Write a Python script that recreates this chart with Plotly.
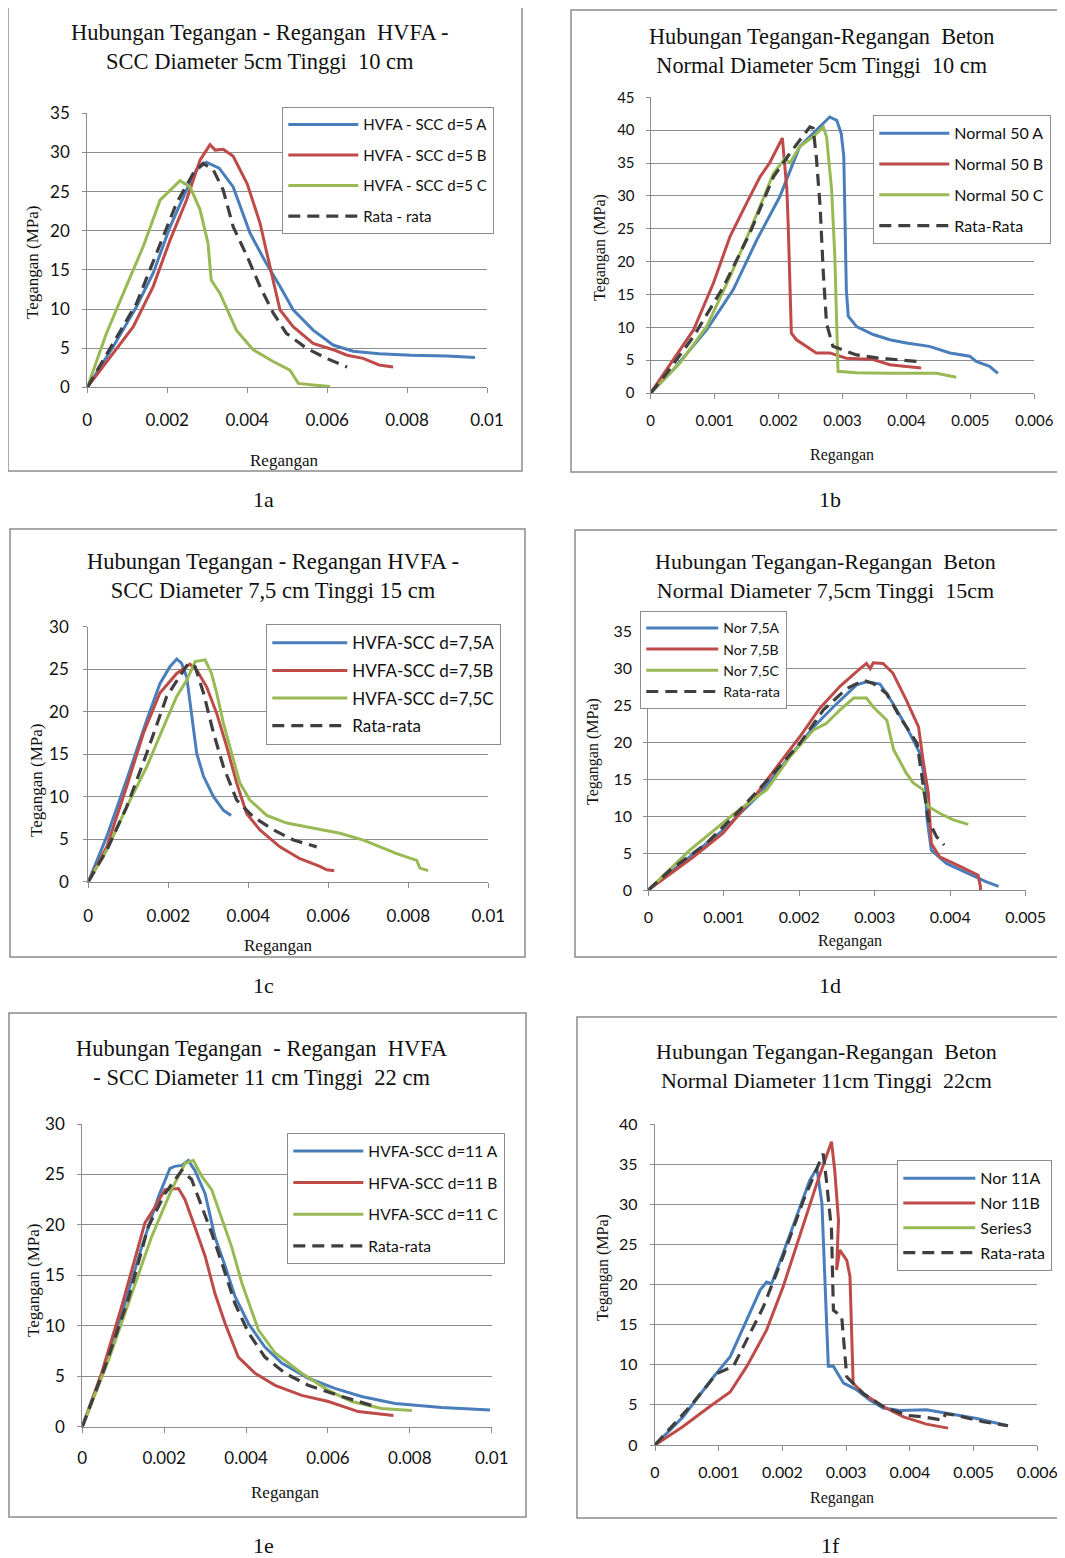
import plotly.graph_objects as go

# The page body adds an 8px margin; the figure is sized/offset so that
# reference pixel coordinates map onto the browser viewport.
VW, VH = 1065, 1558
OX, OY = 8, 8
W, H = VW - OX, VH - OY

# ---------------- DATA ----------------
# Panel 1a
a_names = ["HVFA - SCC d=5 A", "HVFA - SCC d=5 B", "HVFA - SCC d=5 C", "Rata - rata"]
a_x_A = [0, 0.00065, 0.00123, 0.00165, 0.00207, 0.00248, 0.00273, 0.00298, 0.0033, 0.00365, 0.00407, 0.00448, 0.00482, 0.00515, 0.00565, 0.00615, 0.00665, 0.0073, 0.0081, 0.009, 0.0097]
a_y_A = [0, 5.2, 10.3, 14.6, 20.5, 25.2, 27.8, 28.75, 28.0, 25.6, 19.7, 15.8, 12.9, 9.9, 7.3, 5.4, 4.6, 4.3, 4.1, 4.0, 3.8]
a_x_B = [0, 0.00065, 0.00115, 0.00165, 0.00207, 0.00248, 0.00282, 0.00307, 0.0032, 0.0034, 0.00365, 0.004, 0.00432, 0.00453, 0.00482, 0.00515, 0.00565, 0.00615, 0.0065, 0.0069, 0.0073, 0.00765]
a_y_B = [0, 4.3, 7.75, 12.9, 18.8, 23.9, 29.0, 31.0, 30.3, 30.4, 29.5, 26.0, 21.0, 16.3, 9.9, 7.75, 5.6, 4.8, 4.1, 3.7, 2.85, 2.6]
a_x_C = [0, 0.00048, 0.0009, 0.0014, 0.00182, 0.00232, 0.00257, 0.00282, 0.00302, 0.0031, 0.00332, 0.00373, 0.00415, 0.00465, 0.00507, 0.00528, 0.00565, 0.00607]
a_y_C = [0, 6.9, 12.0, 18.0, 23.9, 26.4, 25.6, 22.7, 18.4, 13.7, 12.0, 7.3, 4.8, 3.3, 2.2, 0.5, 0.3, 0.1]
a_x_R = [0, 0.00065, 0.00123, 0.00173, 0.00223, 0.00265, 0.0029, 0.00315, 0.0034, 0.00365, 0.004, 0.00432, 0.00465, 0.00498, 0.00548, 0.00598, 0.0065]
a_y_R = [0, 5.6, 10.7, 17.1, 23.5, 27.3, 28.6, 27.8, 25.2, 20.5, 16.7, 12.9, 9.5, 6.9, 5.0, 3.7, 2.6]

# Panel 1b
b_names = ["Normal 50 A", "Normal 50 B", "Normal 50 C", "Rata-Rata"]
b_x_A = [0, 0.00035, 0.000875, 0.00129, 0.00166, 0.00202, 0.00233, 0.00259, 0.0028, 0.00291, 0.00298, 0.00302, 0.00304, 0.00306, 0.00309, 0.00322, 0.00348, 0.00374, 0.004, 0.00436, 0.00468, 0.00499, 0.00509, 0.0053, 0.00543]
b_y_A = [0, 3.5, 9.6, 15.7, 23.3, 29.9, 37.5, 40.0, 42.0, 41.5, 39.5, 36.0, 25.8, 15.7, 11.7, 10.1, 8.9, 8.1, 7.6, 7.1, 6.1, 5.6, 4.8, 4.05, 3.0]
b_x_B = [0, 0.00035, 0.00067, 0.00098, 0.00124, 0.0015, 0.00171, 0.00186, 0.00197, 0.00206, 0.00208, 0.00213, 0.00215, 0.00218, 0.0022, 0.00228, 0.00244, 0.00259, 0.0028, 0.00306, 0.00348, 0.00374, 0.004, 0.00423]
b_y_B = [0, 5.1, 9.6, 16.7, 23.8, 28.9, 32.9, 35.0, 37.0, 38.8, 36.5, 30.9, 25.8, 15.7, 9.1, 8.1, 7.1, 6.1, 6.1, 5.3, 5.1, 4.3, 4.05, 3.8]
b_x_C = [0, 0.00046, 0.000875, 0.00124, 0.0016, 0.00192, 0.0021, 0.00218, 0.00233, 0.00254, 0.0027, 0.00275, 0.00283, 0.00288, 0.00293, 0.00322, 0.00374, 0.00447, 0.00478]
b_y_C = [0, 4.6, 10.1, 17.7, 25.8, 33.4, 35.7, 35.0, 37.5, 39.0, 40.5, 39.0, 30.9, 20.8, 3.3, 3.1, 3.0, 3.0, 2.4]
b_x_R = [0, 0.00025, 0.00067, 0.00114, 0.00155, 0.00192, 0.00218, 0.00249, 0.00254, 0.00259, 0.00265, 0.0027, 0.00275, 0.00285, 0.00322, 0.00358, 0.00416]
b_y_R = [0, 3.0, 8.6, 16.2, 24.3, 32.9, 36.5, 40.5, 40.3, 36.0, 28.4, 18.2, 10.6, 7.1, 5.8, 5.3, 4.8]

# Panel 1c
c_names = ["HVFA-SCC d=7,5A", "HVFA-SCC d=7,5B", "HVFA-SCC d=7,5C", "Rata-rata"]
c_x_A = [0, 0.00046, 0.00096, 0.00146, 0.00179, 0.00204, 0.00221, 0.00233, 0.00246, 0.00258, 0.00271, 0.00288, 0.00313, 0.00338, 0.00357]
c_y_A = [0, 5.3, 12.0, 19.0, 23.3, 25.3, 26.2, 25.7, 24.1, 19.8, 15.1, 12.4, 10.0, 8.4, 7.8]
c_x_B = [0, 0.00046, 0.00096, 0.00138, 0.00179, 0.00221, 0.00254, 0.00271, 0.00296, 0.00321, 0.00346, 0.00371, 0.00396, 0.00429, 0.00479, 0.00529, 0.00579, 0.00596, 0.00615]
c_y_B = [0, 4.1, 11.2, 17.5, 22.2, 24.5, 25.6, 24.9, 22.9, 19.8, 15.9, 11.6, 8.0, 6.1, 4.1, 2.7, 1.8, 1.4, 1.3]
c_x_C = [0, 0.00046, 0.00096, 0.00146, 0.00188, 0.00221, 0.00246, 0.00267, 0.00292, 0.00308, 0.00321, 0.00338, 0.00363, 0.00379, 0.00404, 0.00446, 0.00496, 0.00563, 0.00629, 0.00688, 0.00729, 0.00771, 0.00821, 0.00829, 0.0085]
c_y_C = [0, 3.7, 8.8, 13.5, 18.2, 21.8, 23.7, 25.9, 26.1, 24.5, 22.2, 18.6, 14.3, 11.6, 9.6, 7.8, 6.9, 6.3, 5.7, 4.9, 4.1, 3.3, 2.5, 1.6, 1.3]
c_x_R = [0, 0.00046, 0.00096, 0.00146, 0.00196, 0.00229, 0.0025, 0.00267, 0.00288, 0.00313, 0.00338, 0.00371, 0.00413, 0.00463, 0.00513, 0.00571]
c_y_R = [0, 3.7, 8.8, 15.1, 21.8, 24.1, 25.7, 25.3, 22.2, 17.5, 13.5, 9.6, 7.6, 6.1, 4.9, 4.1]

# Panel 1d
d_names = ["Nor 7,5A", "Nor 7,5B", "Nor 7,5C", "Rata-rata"]
d_x_A = [0, 0.00055, 0.00099, 0.00144, 0.00188, 0.00219, 0.00245, 0.00276, 0.00289, 0.00307, 0.00324, 0.00342, 0.0036, 0.00367, 0.00369, 0.00375, 0.00395, 0.00422, 0.00448, 0.00464]
d_y_A = [0, 4.5, 8.1, 12.6, 18.1, 22.1, 24.8, 27.8, 28.2, 27.9, 25.3, 22.1, 18.5, 14.5, 9.9, 5.4, 3.6, 2.3, 1.1, 0.5]
d_x_B = [0, 0.0006, 0.00099, 0.00144, 0.00174, 0.00201, 0.00227, 0.00254, 0.00276, 0.00289, 0.00294, 0.00298, 0.00311, 0.00324, 0.00342, 0.00358, 0.00364, 0.00371, 0.00375, 0.00386, 0.00413, 0.00437, 0.0044, 0.0044]
d_y_B = [0, 4.5, 7.7, 13.1, 17.2, 20.8, 24.6, 27.6, 29.6, 30.7, 30.0, 30.8, 30.7, 29.4, 25.7, 22.1, 17.6, 13.1, 6.3, 4.5, 3.2, 2.0, 0.45, 0]
d_x_C = [0, 0.00055, 0.00117, 0.00157, 0.00188, 0.00219, 0.00236, 0.00254, 0.00272, 0.00289, 0.00298, 0.00316, 0.00325, 0.00342, 0.00351, 0.00364, 0.00371, 0.00386, 0.00404, 0.00424]
d_y_C = [0, 5.4, 10.6, 13.6, 18.1, 21.7, 22.6, 24.4, 26.0, 26.0, 24.8, 23.0, 19.0, 15.8, 14.5, 13.6, 11.3, 10.4, 9.5, 8.9]
d_x_R = [0, 0.00029, 0.00077, 0.00121, 0.00166, 0.00201, 0.00232, 0.00263, 0.00285, 0.00298, 0.00316, 0.00333, 0.00356, 0.00364, 0.00371, 0.00382, 0.00392]
d_y_R = [0, 2.7, 6.3, 10.8, 15.8, 19.9, 24.4, 27.3, 28.4, 28.0, 26.6, 23.5, 19.9, 14.0, 9.5, 7.2, 6.1]

# Panel 1e
e_names = ["HVFA-SCC d=11 A", "HFVA-SCC d=11 B", "HVFA-SCC d=11 C", "Rata-rata"]
e_x_A = [0, 0.00055, 0.00104, 0.00145, 0.00186, 0.00214, 0.00226, 0.00243, 0.00259, 0.00275, 0.003, 0.00324, 0.00349, 0.00373, 0.00406, 0.00446, 0.00487, 0.00552, 0.00617, 0.00682, 0.00764, 0.00878, 0.00996]
e_y_A = [0, 5.9, 12.2, 17.8, 22.8, 25.6, 25.8, 25.9, 26.4, 25.4, 23.1, 18.8, 15.9, 12.9, 10.2, 7.9, 6.3, 4.8, 3.8, 3.0, 2.3, 1.9, 1.65]
e_x_B = [0, 0.00047, 0.00096, 0.00153, 0.00178, 0.00202, 0.00235, 0.00251, 0.00275, 0.003, 0.00324, 0.00349, 0.00381, 0.00422, 0.00471, 0.00536, 0.00601, 0.00674, 0.0076]
e_y_B = [0, 5.3, 11.9, 20.2, 21.8, 23.5, 23.6, 22.5, 19.8, 16.9, 13.2, 10.2, 6.9, 5.3, 4.1, 3.1, 2.5, 1.5, 1.1]
e_x_C = [0, 0.00064, 0.00121, 0.00169, 0.00218, 0.00251, 0.00271, 0.00292, 0.00316, 0.00341, 0.00365, 0.0039, 0.0043, 0.00471, 0.00536, 0.00601, 0.00658, 0.00731, 0.00805]
e_y_C = [0, 6.6, 13.2, 18.8, 23.5, 26.1, 26.4, 24.8, 23.5, 20.5, 17.8, 14.2, 9.6, 7.3, 5.3, 3.6, 2.5, 1.8, 1.6]
e_x_R = [0, 0.00055, 0.00112, 0.00161, 0.00202, 0.00243, 0.00267, 0.00292, 0.00316, 0.00341, 0.00373, 0.00406, 0.00446, 0.00495, 0.00552, 0.00634, 0.00707]
e_y_R = [0, 5.9, 12.6, 19.8, 23.1, 25.4, 24.5, 21.8, 19.2, 16.2, 12.2, 9.3, 6.9, 5.3, 4.1, 3.0, 2.1]

# Panel 1f
f_names = ["Nor 11A", "Nor 11B", "Series3", "Rata-rata"]
f_x_A = [0, 0.00044, 0.00092, 0.00118, 0.00144, 0.00165, 0.00175, 0.00183, 0.00201, 0.00222, 0.00243, 0.00254, 0.00262, 0.00264, 0.00267, 0.00272, 0.0028, 0.00296, 0.00316, 0.00337, 0.00358, 0.00384, 0.00426, 0.00463, 0.00505, 0.00554]
f_y_A = [0, 3.5, 8.5, 11.0, 15.6, 19.3, 20.3, 20.1, 23.9, 28.4, 33.0, 34.5, 30.1, 26.0, 19.7, 9.8, 9.8, 7.7, 6.9, 5.6, 4.6, 4.3, 4.4, 3.9, 3.3, 2.4]
f_x_B = [0, 0.00044, 0.00086, 0.00118, 0.00144, 0.00175, 0.00201, 0.00228, 0.00254, 0.00277, 0.00282, 0.00288, 0.00285, 0.0029, 0.00301, 0.00306, 0.00311, 0.00327, 0.00358, 0.0039, 0.00426, 0.0046]
f_y_B = [0, 2.3, 4.8, 6.6, 9.8, 14.3, 19.7, 26.4, 32.6, 37.8, 34.3, 28.0, 21.8, 24.3, 23.0, 21.0, 7.7, 6.4, 4.8, 3.5, 2.6, 2.1]
f_x_C = [0]          # Series3: no visible data in the chart
f_y_C = [0]
f_x_R = [0, 0.00055, 0.00097, 0.00123, 0.00144, 0.0017, 0.00201, 0.00233, 0.00264, 0.00269, 0.00277, 0.0028, 0.00293, 0.00301, 0.00327, 0.00358, 0.00395, 0.00421, 0.00452, 0.00456, 0.00473, 0.00515, 0.00554]
f_y_R = [0, 4.8, 8.9, 9.8, 13.1, 17.2, 23.5, 30.5, 36.3, 33.0, 26.8, 16.8, 16.0, 8.5, 6.4, 4.8, 3.7, 3.5, 3.1, 3.9, 3.7, 2.9, 2.4]

# Titles and tick labels
titles = [
    "Hubungan Tegangan - Regangan  HVFA -<br>SCC Diameter 5cm Tinggi  10 cm",
    "Hubungan Tegangan-Regangan  Beton<br>Normal Diameter 5cm Tinggi  10 cm",
    "Hubungan Tegangan - Regangan HVFA -<br>SCC Diameter 7,5 cm Tinggi 15 cm",
    "Hubungan Tegangan-Regangan  Beton<br>Normal Diameter 7,5cm Tinggi  15cm",
    "Hubungan Tegangan  - Regangan  HVFA<br>- SCC Diameter 11 cm Tinggi  22 cm",
    "Hubungan Tegangan-Regangan  Beton<br>Normal Diameter 11cm Tinggi  22cm",
]
panel_labels = ["1a", "1b", "1c", "1d", "1e", "1f"]
x_ticks_01 = [0, 0.002, 0.004, 0.006, 0.008, 0.01]
x_ticktext_01 = ["0", "0.002", "0.004", "0.006", "0.008", "0.01"]
x_ticks_006 = [0, 0.001, 0.002, 0.003, 0.004, 0.005, 0.006]
x_ticktext_006 = ["0", "0.001", "0.002", "0.003", "0.004", "0.005", "0.006"]
x_ticks_005 = [0, 0.001, 0.002, 0.003, 0.004, 0.005]
x_ticktext_005 = ["0", "0.001", "0.002", "0.003", "0.004", "0.005"]
y_max = [35, 45, 30, 35, 30, 40]
y_title = "Tegangan (MPa)"
x_title = "Regangan"

# ---------------- LAYOUT CONFIG ----------------
COLORS = ["#4a7ebb", "#be4b48", "#98b954", "#3f3f3f"]
GRID = "#8c8c8c"

panels = [
    dict(names=a_names, series=[(a_x_A, a_y_A), (a_x_B, a_y_B), (a_x_C, a_y_C), (a_x_R, a_y_R)],
         box=(8, 7, 522, 471), plot=(87.3, 113.3, 487, 387.3), xt=(x_ticks_01, x_ticktext_01),
         tfs=17, xstand=12, ystand=9, title_c=(260, 47), tsize=22.5,
         ytl=(33, 262), xtl=(284, 460), atsize=17,
         leg=(282, 107), lfs=15, lgap=8, iw=70, lab=(263, 500)),
    dict(names=b_names, series=[(b_x_A, b_y_A), (b_x_B, b_y_B), (b_x_C, b_y_C), (b_x_R, b_y_R)],
         box=(571, 10, 1063, 472), plot=(650.7, 97.3, 1034.3, 393), xt=(x_ticks_006, x_ticktext_006),
         tfs=15, xstand=9, ystand=8, title_c=(821, 51), tsize=22.3,
         ytl=(600, 248), xtl=(842, 455), atsize=16,
         leg=(873, 115), lfs=16, lgap=7, iw=70, lab=(830, 500)),
    dict(names=c_names, series=[(c_x_A, c_y_A), (c_x_B, c_y_B), (c_x_C, c_y_C), (c_x_R, c_y_R)],
         box=(10, 529, 525, 957), plot=(88.3, 626.7, 488.3, 881.7), xt=(x_ticks_01, x_ticktext_01),
         tfs=17, xstand=14, ystand=11, title_c=(273, 576), tsize=22.5,
         ytl=(36, 780), xtl=(278, 945), atsize=17,
         leg=(266, 624), lfs=17, lgap=2.5, iw=75, lab=(263, 985)),
    dict(names=d_names, series=[(d_x_A, d_y_A), (d_x_B, d_y_B), (d_x_C, d_y_C), (d_x_R, d_y_R)],
         box=(575, 530, 1063, 957), plot=(648.3, 631.7, 1025.7, 890), xt=(x_ticks_005, x_ticktext_005),
         tfs=16, xstand=8, ystand=8, title_c=(825, 576), tsize=22,
         ytl=(593, 752), xtl=(850, 941), atsize=16,
         leg=(640, 611), lfs=14, lgap=0, iw=72, lab=(830, 985)),
    dict(names=e_names, series=[(e_x_A, e_y_A), (e_x_B, e_y_B), (e_x_C, e_y_C), (e_x_R, e_y_R)],
         box=(9, 1013, 526, 1517), plot=(82.3, 1124, 491.7, 1426.7), xt=(x_ticks_01, x_ticktext_01),
         tfs=17, xstand=11, ystand=9, title_c=(262, 1063), tsize=22.5,
         ytl=(33, 1280), xtl=(285, 1492), atsize=17,
         leg=(287, 1133), lfs=15.5, lgap=8.5, iw=70, lab=(263, 1545)),
    dict(names=f_names, series=[(f_x_A, f_y_A), (f_x_B, f_y_B), (f_x_C, f_y_C), (f_x_R, f_y_R)],
         box=(577, 1017, 1068, 1518), plot=(655, 1124, 1037.3, 1445), xt=(x_ticks_006, x_ticktext_006),
         tfs=16, xstand=8, ystand=9, title_c=(826, 1066), tsize=22,
         ytl=(603, 1268), xtl=(842, 1498), atsize=16,
         leg=(897, 1160), lfs=16, lgap=1, iw=72, lab=(830, 1545)),
]


def fx(px):
    return (px - OX) / W


def fy(py):
    return 1 - (py - OY) / H


fig = go.Figure()
layout = dict(width=W, height=H, margin=dict(l=0, r=0, t=0, b=0, pad=0, autoexpand=False),
              paper_bgcolor="white", plot_bgcolor="white", showlegend=True,
              annotations=[], shapes=[])

SERIF = "Liberation Serif"
SANS = "Lato"

for i, p in enumerate(panels):
    k = i + 1
    xs = "" if k == 1 else str(k)
    legkey = "legend" if k == 1 else f"legend{k}"
    for j, (xv, yv) in enumerate(p["series"]):
        dash = "12px,7px" if j == 3 else "solid"
        fig.add_trace(go.Scatter(
            x=xv, y=yv, mode="lines", name=p["names"][j],
            line=dict(color=COLORS[j], width=3.2 if j == 3 else 3, dash=dash),
            xaxis="x" + xs, yaxis="y" + xs, legend=legkey,
            legendgroup=f"g{k}_{j}", showlegend=True, hoverinfo="skip"))
    x0, y0, x1, y1 = p["plot"]
    layout["xaxis" + xs] = dict(
        domain=[fx(x0), fx(x1)], anchor="y" + xs, range=[0, p["xt"][0][-1]],
        tickvals=p["xt"][0], ticktext=p["xt"][1], showgrid=False, zeroline=False,
        showline=True, linecolor=GRID, linewidth=1.3, ticks="outside", ticklen=5,
        tickcolor=GRID, tickwidth=1.3, tickfont=dict(family=SANS, size=p["tfs"], color="#111"),
        ticklabelstandoff=p["xstand"], fixedrange=True)
    ym = y_max[i]
    layout["yaxis" + xs] = dict(
        domain=[fy(y1), fy(y0)], anchor="x" + xs, range=[0, ym],
        tickvals=list(range(0, ym + 1, 5)), showgrid=True, gridcolor=GRID, gridwidth=1.3,
        zeroline=False, showline=True, linecolor=GRID, linewidth=1.3, ticks="outside",
        ticklen=4, tickcolor=GRID, tickwidth=1.3,
        tickfont=dict(family=SANS, size=p["tfs"], color="#111"),
        ticklabelstandoff=p["ystand"], fixedrange=True)
    lx, ly = p["leg"]
    layout[legkey] = dict(
        x=fx(lx), y=fy(ly), xanchor="left", yanchor="top",
        bgcolor="white", bordercolor=GRID, borderwidth=1.3,
        font=dict(family=SANS, size=p["lfs"], color="#111"),
        traceorder="grouped", tracegroupgap=p["lgap"], itemwidth=p["iw"])
    # frame
    bx0, by0, bx1, by1 = p["box"]
    layout["shapes"].append(dict(type="rect", xref="paper", yref="paper",
                                 x0=fx(bx0), x1=fx(bx1), y0=fy(by1), y1=fy(by0),
                                 line=dict(color=GRID, width=1.5), layer="below"))
    # title
    tcx, tcy = p["title_c"]
    layout["annotations"].append(dict(
        text=titles[i], x=fx(tcx), y=fy(tcy), xref="paper", yref="paper",
        showarrow=False, xanchor="center", yanchor="middle",
        font=dict(family=SERIF, size=p["tsize"], color="#111")))
    # axis titles
    yx, yy = p["ytl"]
    layout["annotations"].append(dict(
        text=y_title, x=fx(yx), y=fy(yy), xref="paper", yref="paper",
        showarrow=False, textangle=-90, xanchor="center", yanchor="middle",
        font=dict(family=SERIF, size=p["atsize"], color="#111")))
    xx, xy = p["xtl"]
    layout["annotations"].append(dict(
        text=x_title, x=fx(xx), y=fy(xy), xref="paper", yref="paper",
        showarrow=False, xanchor="center", yanchor="middle",
        font=dict(family=SERIF, size=p["atsize"], color="#111")))
    # panel label
    px_, py_ = p["lab"]
    layout["annotations"].append(dict(
        text=panel_labels[i], x=fx(px_), y=fy(py_), xref="paper", yref="paper",
        showarrow=False, xanchor="center", yanchor="middle",
        font=dict(family=SERIF, size=22, color="#111")))

fig.update_layout(**layout)
fig.write_html("out.html")
